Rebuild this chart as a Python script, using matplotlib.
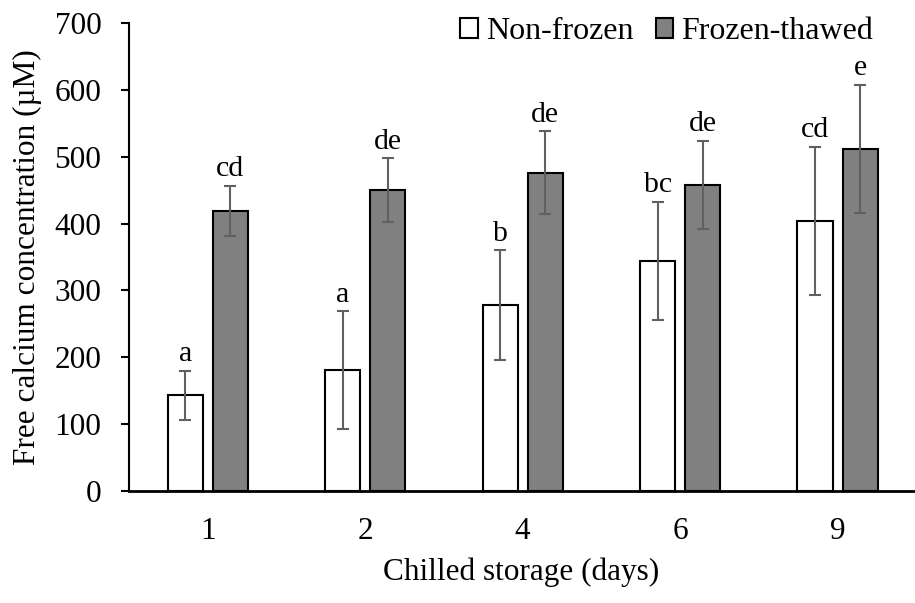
import numpy as np
import matplotlib
matplotlib.use('Agg')
import matplotlib.pyplot as plt

days = ['1', '2', '4', '6', '9']
non_frozen = [143, 181, 278, 344, 404]
non_frozen_err = [37, 88, 82, 89, 111]
frozen_thawed = [419, 450, 476, 458, 512]
frozen_thawed_err = [38, 48, 62, 66, 96]
nf_letters = ['a', 'a', 'b', 'bc', 'cd']
ft_letters = ['cd', 'de', 'de', 'de', 'e']

plt.rcParams['font.family'] = ['Liberation Serif', 'DejaVu Serif']

fig = plt.figure(figsize=(9.15, 6.03), dpi=100)
ax = fig.add_axes([129 / 915, 1 - 490.7 / 603, 785 / 915, (490.7 - 23.3) / 603])

x = np.arange(len(days))
width = 0.224
off = 0.143
err_style = dict(ecolor='#606060', elinewidth=1.5, capsize=4.3, capthick=1.5)

ax.bar(x - off, non_frozen, width, color='white', edgecolor='black', linewidth=1.5,
       yerr=non_frozen_err, error_kw=err_style, label='Non-frozen', zorder=2)
ax.bar(x + off, frozen_thawed, width, color='#808080', edgecolor='black', linewidth=1.5,
       yerr=frozen_thawed_err, error_kw=err_style, label='Frozen-thawed', zorder=2)

# significance letters above the error bars
for i in range(len(days)):
    ax.text(x[i] - off, non_frozen[i] + non_frozen_err[i] + 5, nf_letters[i],
            ha='center', va='bottom', fontsize=21.5)
    ax.text(x[i] + off, frozen_thawed[i] + frozen_thawed_err[i] + 5, ft_letters[i],
            ha='center', va='bottom', fontsize=21.5)

ax.set_xlim(-0.5, 4.485)
ax.set_ylim(0, 700)
ax.set_yticks(range(0, 701, 100))
ax.set_xticks(x)
ax.set_xticklabels(days)
ax.tick_params(axis='y', direction='out', length=5.8, width=1.5, labelsize=22.5, pad=14)
ax.tick_params(axis='x', length=0, labelsize=22.5, pad=19)
for s in ['top', 'right']:
    ax.spines[s].set_visible(False)
ax.spines['left'].set_linewidth(1.5)
ax.spines['bottom'].set_linewidth(2)

ax.set_xlabel('Chilled storage (days)', fontsize=22.5, labelpad=8)
ax.set_ylabel('Free calcium concentration (\u00b5M)', fontsize=22.5, labelpad=9)

ax.legend(loc='center right', bbox_to_anchor=(0.948, 0.982), ncol=2, frameon=False,
          fontsize=23, handlelength=0.55, handleheight=0.55, handletextpad=0.25,
          columnspacing=0.7, borderaxespad=0, borderpad=0)

fig.savefig('out.png', dpi=100)
